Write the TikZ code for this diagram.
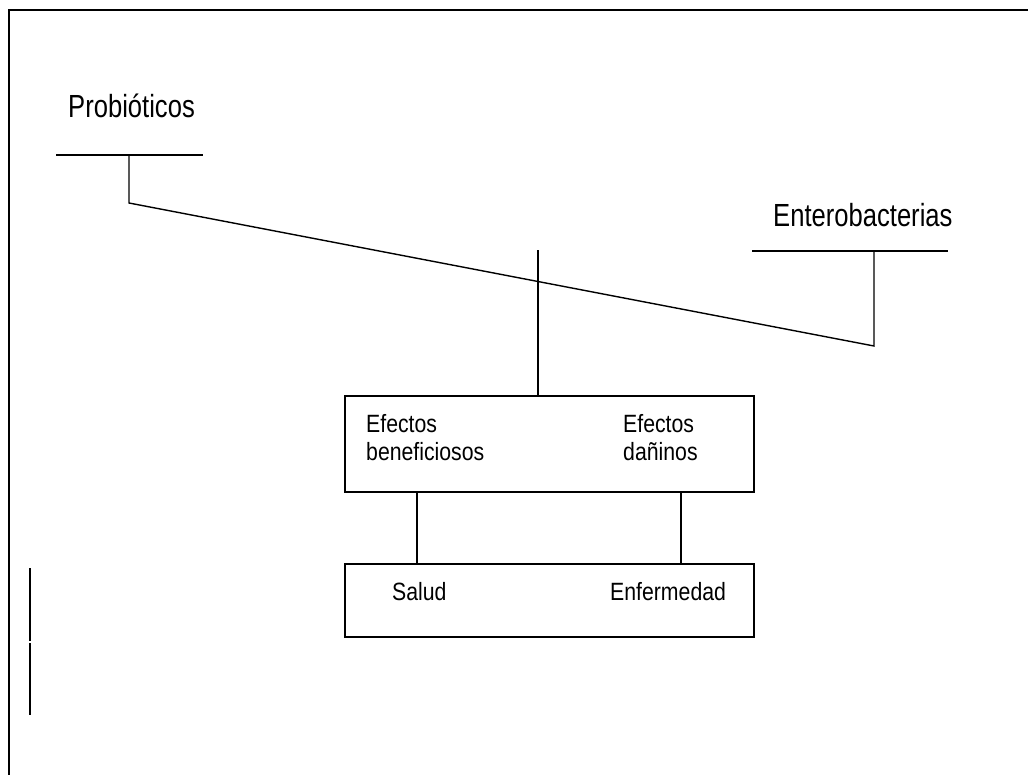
\documentclass[tikz,border=0pt]{standalone}
\usepackage{fontspec}
\setmainfont{Liberation Sans}
\newfontfamily\labelfont[FakeStretch=0.85]{Liberation Sans}
\newfontfamily\titlefont[FakeStretch=0.8]{Liberation Sans}
\begin{document}
\begin{tikzpicture}[x=1pt,y=-1pt,
  line/.style={line width=1.4pt,line cap=rect},
  titlelabel/.style={inner sep=0pt,anchor=base west,font=\titlefont\fontsize{32}{36}\selectfont},
  boxlabel/.style={inner sep=0pt,anchor=north west,align=left,font=\labelfont\fontsize{25}{28}\selectfont},
  rowlabel/.style={inner sep=0pt,anchor=base west,font=\labelfont\fontsize{25}{28}\selectfont},
  stagebox/.style={draw,line width=1.6pt,minimum width=409pt,inner sep=0pt}]
\useasboundingbox (0,0) rectangle (1028,775);

% page frame (left and top edges)
\draw[line width=2pt] (9,775) -- (9,10) -- (1028,10);

% the two interacting groups
\node[titlelabel] (prob) at (68,118) {Probióticos};
\node[titlelabel] (entero) at (773,227) {Enterobacterias};

\coordinate (probL) at (57,155);
\coordinate (probR) at (202,155);
\coordinate (probStem) at (129,155);
\coordinate (probFoot) at (129,203);
\coordinate (entL) at (753,251);
\coordinate (entR) at (947,251);
\coordinate (entStem) at (874,251);
\coordinate (entFoot) at (874,346);
\coordinate (meet) at (538,251);

\draw[line] (probL) -- (probR);
\draw[line] (entL) -- (entR);
\draw[line] (probStem) -- (probFoot) -- (entFoot) -- (entStem);

% effects box
\node[stagebox,minimum height=96pt] (effects) at (549.5,444) {};
\node[boxlabel] (good) at (366,414) {Efectos\\beneficiosos};
\node[boxlabel] (bad) at (623,414) {Efectos\\dañinos};

% outcome box
\node[stagebox,minimum height=73pt] (outcome) at (549.5,600.5) {};
\node[rowlabel] (health) at (392,600) {Salud};
\node[rowlabel] (disease) at (610,600) {Enfermedad};

% connectors
\draw[line] (meet) -- (meet |- effects.north);
\coordinate (goodLink) at (417,492);
\coordinate (badLink) at (681,492);
\draw[line] (goodLink |- effects.south) -- (goodLink |- outcome.north);
\draw[line] (badLink |- effects.south) -- (badLink |- outcome.north);

% margin mark
\coordinate (markA) at (30,568);
\coordinate (markB) at (30,641);
\coordinate (markC) at (30,643);
\coordinate (markD) at (30,715);
\draw[line,line cap=butt] (markA) -- (markB);
\draw[line,line cap=butt] (markC) -- (markD);
\end{tikzpicture}
\end{document}
